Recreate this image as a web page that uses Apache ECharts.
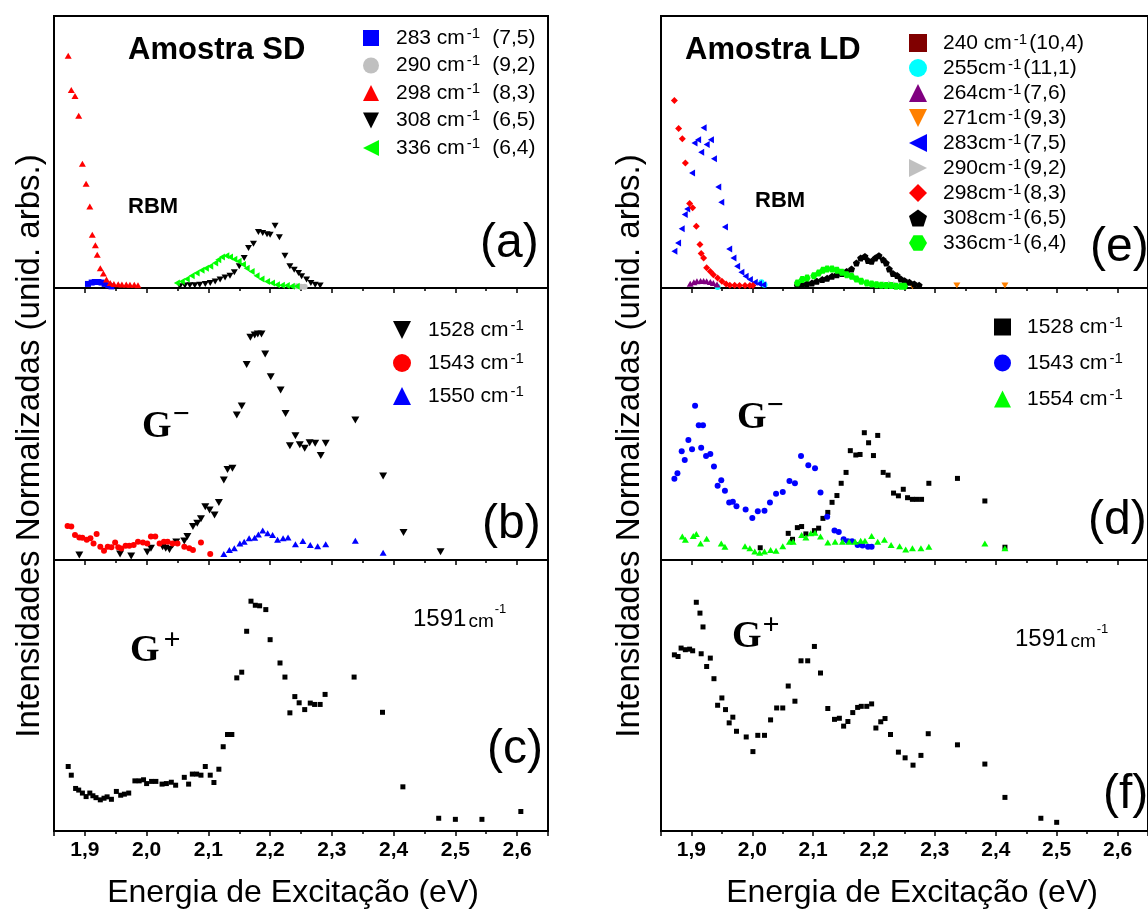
<!DOCTYPE html>
<html><head><meta charset="utf-8">
<script src="https://cdn.jsdelivr.net/npm/echarts@6/dist/echarts.min.js"></script>
<style>html,body{margin:0;padding:0;background:#fff}#c{width:1148px;height:912px}</style>
</head><body><div id="c"></div>
<script>
// ---------------- DATA (energy eV, normalized intensity) ----------------
const sdRbm283 = [[1.905,0.015],[1.911,0.020],[1.916,0.022],[1.922,0.022],[1.927,0.020],[1.932,0.015],[1.938,0.010],[1.943,0.006]];
const sdRbm290 = [[2.243,0.006],[2.250,0.005],[2.256,0.005]];
const sdRbm298 = [[1.873,0.854],[1.878,0.728],[1.884,0.706],[1.890,0.633],[1.896,0.457],[1.902,0.383],[1.908,0.300],[1.912,0.196],[1.917,0.157],[1.920,0.122],[1.925,0.073],[1.930,0.053],[1.935,0.031],[1.941,0.018],[1.947,0.015],[1.954,0.014],[1.960,0.013],[1.967,0.013],[1.973,0.012],[1.980,0.012],[1.986,0.010]];
const sdRbm308 = [[2.054,0.006],[2.062,0.009],[2.070,0.010],[2.078,0.010],[2.086,0.012],[2.095,0.015],[2.103,0.018],[2.111,0.024],[2.119,0.031],[2.127,0.039],[2.135,0.045],[2.142,0.058],[2.150,0.080],[2.158,0.110],[2.165,0.147],[2.173,0.163],[2.181,0.206],[2.188,0.202],[2.195,0.198],[2.200,0.196],[2.208,0.229],[2.215,0.187],[2.224,0.119],[2.232,0.080],[2.239,0.067],[2.246,0.055],[2.251,0.043],[2.259,0.031],[2.266,0.018],[2.273,0.012],[2.281,0.009]];
const sdRbm336 = [[2.049,0.018],[2.057,0.024],[2.065,0.033],[2.073,0.045],[2.081,0.055],[2.089,0.065],[2.096,0.073],[2.103,0.080],[2.111,0.092],[2.116,0.104],[2.122,0.114],[2.129,0.119],[2.135,0.114],[2.142,0.106],[2.149,0.098],[2.156,0.086],[2.162,0.073],[2.170,0.061],[2.178,0.045],[2.186,0.033],[2.195,0.024],[2.203,0.018],[2.211,0.012],[2.219,0.010],[2.227,0.009],[2.235,0.006],[2.243,0.006]];

const sdG1528 = [[1.891,0.018],[1.957,0.022],[1.975,0.015],[2.001,0.029],[2.007,0.043],[2.026,0.049],[2.031,0.043],[2.037,0.039],[2.042,0.055],[2.048,0.066],[2.061,0.070],[2.066,0.086],[2.075,0.123],[2.082,0.135],[2.088,0.152],[2.095,0.196],[2.102,0.184],[2.110,0.165],[2.117,0.211],[2.125,0.294],[2.131,0.333],[2.139,0.337],[2.146,0.533],[2.154,0.566],[2.162,0.719],[2.168,0.819],[2.175,0.827],[2.180,0.831],[2.186,0.831],[2.192,0.757],[2.201,0.674],[2.217,0.625],[2.225,0.539],[2.232,0.420],[2.241,0.457],[2.248,0.424],[2.256,0.411],[2.264,0.431],[2.273,0.429],[2.282,0.384],[2.290,0.429],[2.338,0.515],[2.383,0.309],[2.416,0.101],[2.476,0.030]];
const sdG1543 = [[1.872,0.125],[1.878,0.123],[1.884,0.092],[1.891,0.083],[1.896,0.082],[1.903,0.074],[1.909,0.080],[1.914,0.061],[1.919,0.096],[1.925,0.049],[1.931,0.034],[1.937,0.049],[1.943,0.047],[1.949,0.064],[1.954,0.047],[1.959,0.042],[1.966,0.052],[1.972,0.052],[1.979,0.055],[1.986,0.067],[1.994,0.064],[2.001,0.061],[2.007,0.086],[2.014,0.086],[2.021,0.061],[2.028,0.067],[2.034,0.067],[2.042,0.061],[2.050,0.061],[2.061,0.049],[2.069,0.043],[2.075,0.037],[2.088,0.064],[2.103,0.022]];
const sdG1550 = [[2.125,0.022],[2.134,0.037],[2.142,0.043],[2.151,0.061],[2.158,0.067],[2.166,0.080],[2.175,0.082],[2.181,0.094],[2.188,0.108],[2.196,0.098],[2.204,0.092],[2.212,0.074],[2.221,0.080],[2.229,0.083],[2.241,0.058],[2.253,0.070],[2.265,0.055],[2.277,0.051],[2.290,0.058],[2.338,0.071],[2.383,0.027]];
const sdG1591 = [[1.873,0.238],[1.878,0.206],[1.885,0.157],[1.890,0.151],[1.896,0.140],[1.902,0.127],[1.908,0.140],[1.913,0.130],[1.918,0.123],[1.925,0.115],[1.931,0.121],[1.936,0.126],[1.943,0.117],[1.951,0.146],[1.958,0.132],[1.964,0.136],[1.971,0.140],[1.981,0.185],[1.988,0.185],[1.995,0.189],[2.000,0.175],[2.008,0.183],[2.015,0.183],[2.025,0.173],[2.032,0.175],[2.040,0.180],[2.047,0.169],[2.061,0.198],[2.068,0.173],[2.074,0.210],[2.081,0.210],[2.088,0.206],[2.095,0.238],[2.103,0.206],[2.109,0.179],[2.117,0.228],[2.124,0.311],[2.131,0.356],[2.138,0.356],[2.146,0.565],[2.154,0.586],[2.162,0.737],[2.169,0.848],[2.176,0.833],[2.183,0.831],[2.193,0.817],[2.200,0.706],[2.216,0.620],[2.224,0.568],[2.232,0.436],[2.240,0.496],[2.247,0.473],[2.256,0.448],[2.265,0.472],[2.272,0.467],[2.281,0.467],[2.289,0.504],[2.336,0.568],[2.382,0.438],[2.415,0.163],[2.473,0.047],[2.500,0.043],[2.543,0.043],[2.606,0.072]];

const ldRbm240 = [];
const ldRbm255 = [[1.943,0.004],[2.015,0.021],[2.020,0.012]];
const ldRbm264 = [[1.898,0.016],[1.904,0.021],[1.909,0.025],[1.915,0.026],[1.920,0.026],[1.925,0.025],[1.931,0.022],[1.936,0.018],[1.942,0.013]];
const ldRbm271 = [[2.263,0.006],[2.336,0.009],[2.415,0.009]];
const ldRbm283 = [[1.872,0.135],[1.878,0.165],[1.884,0.218],[1.889,0.270],[1.893,0.290],[1.901,0.423],[1.905,0.533],[1.911,0.545],[1.916,0.499],[1.920,0.589],[1.925,0.528],[1.932,0.545],[1.937,0.475],[1.944,0.371],[1.949,0.315],[1.955,0.224],[1.962,0.143],[1.969,0.110],[1.975,0.080],[1.982,0.058],[1.989,0.043],[1.996,0.031],[2.004,0.021],[2.011,0.016],[2.018,0.012]];
const ldRbm290 = [[2.220,0.012],[2.228,0.015],[2.236,0.012]];
const ldRbm298 = [[1.872,0.689],[1.879,0.586],[1.885,0.549],[1.890,0.460],[1.897,0.311],[1.902,0.295],[1.908,0.227],[1.914,0.160],[1.916,0.127],[1.920,0.110],[1.925,0.074],[1.931,0.061],[1.936,0.049],[1.943,0.037],[1.950,0.025],[1.957,0.015],[1.963,0.010],[1.971,0.010],[1.979,0.009],[1.988,0.009],[1.996,0.009],[2.001,0.009]];
const ldRbm308 = [[2.074,0.009],[2.082,0.012],[2.090,0.016],[2.098,0.018],[2.106,0.025],[2.115,0.031],[2.123,0.036],[2.131,0.043],[2.139,0.049],[2.147,0.053],[2.155,0.061],[2.163,0.070],[2.171,0.092],[2.178,0.110],[2.185,0.116],[2.190,0.101],[2.196,0.098],[2.202,0.110],[2.208,0.119],[2.215,0.104],[2.220,0.092],[2.225,0.070],[2.231,0.053],[2.238,0.046],[2.244,0.033],[2.250,0.027],[2.258,0.021],[2.266,0.015],[2.274,0.010]];
const ldRbm336 = [[2.074,0.018],[2.082,0.031],[2.090,0.037],[2.101,0.045],[2.109,0.055],[2.116,0.065],[2.123,0.070],[2.131,0.070],[2.139,0.065],[2.147,0.058],[2.155,0.049],[2.163,0.043],[2.171,0.033],[2.179,0.025],[2.188,0.018],[2.196,0.015],[2.204,0.012],[2.212,0.010],[2.220,0.009],[2.228,0.009],[2.236,0.006],[2.244,0.006],[2.250,0.006]];

const ldG1528 = [[2.013,0.045],[2.059,0.098],[2.066,0.076],[2.074,0.119],[2.081,0.123],[2.088,0.096],[2.102,0.108],[2.109,0.117],[2.116,0.153],[2.124,0.175],[2.131,0.212],[2.139,0.237],[2.146,0.282],[2.154,0.322],[2.161,0.402],[2.170,0.386],[2.177,0.388],[2.184,0.468],[2.191,0.431],[2.199,0.384],[2.206,0.458],[2.215,0.322],[2.223,0.312],[2.232,0.246],[2.240,0.236],[2.248,0.260],[2.255,0.229],[2.263,0.223],[2.270,0.223],[2.278,0.223],[2.290,0.282],[2.337,0.300],[2.382,0.217],[2.415,0.047]];
const ldG1543 = [[1.872,0.299],[1.877,0.319],[1.884,0.400],[1.889,0.368],[1.895,0.441],[1.901,0.407],[1.906,0.567],[1.912,0.495],[1.919,0.495],[1.916,0.413],[1.924,0.382],[1.931,0.390],[1.937,0.344],[1.943,0.273],[1.949,0.293],[1.955,0.255],[1.962,0.211],[1.968,0.214],[1.974,0.198],[1.989,0.186],[2.000,0.154],[2.009,0.179],[2.020,0.181],[2.029,0.211],[2.039,0.244],[2.050,0.250],[2.061,0.290],[2.070,0.282],[2.080,0.382],[2.092,0.348],[2.103,0.337],[2.112,0.248],[2.123,0.159],[2.135,0.108],[2.142,0.103],[2.150,0.076],[2.157,0.069],[2.164,0.069],[2.173,0.055],[2.181,0.053],[2.190,0.049],[2.196,0.049]];
const ldG1554 = [[1.885,0.086],[1.890,0.074],[1.903,0.088],[1.908,0.096],[1.915,0.061],[1.925,0.078],[1.949,0.061],[1.955,0.049],[1.988,0.051],[1.996,0.043],[2.004,0.031],[2.012,0.027],[2.020,0.031],[2.030,0.037],[2.039,0.034],[2.050,0.051],[2.061,0.067],[2.067,0.067],[2.081,0.092],[2.088,0.083],[2.096,0.098],[2.103,0.100],[2.112,0.086],[2.124,0.064],[2.136,0.067],[2.148,0.067],[2.159,0.067],[2.169,0.067],[2.178,0.071],[2.185,0.071],[2.196,0.088],[2.206,0.067],[2.217,0.074],[2.228,0.055],[2.242,0.051],[2.252,0.039],[2.263,0.043],[2.277,0.043],[2.290,0.049],[2.382,0.061],[2.415,0.043]];
const ldG1591 = [[1.872,0.650],[1.878,0.644],[1.883,0.675],[1.890,0.669],[1.897,0.671],[1.902,0.665],[1.908,0.844],[1.914,0.804],[1.919,0.753],[1.916,0.654],[1.925,0.607],[1.931,0.638],[1.937,0.562],[1.943,0.464],[1.950,0.491],[1.956,0.448],[1.962,0.399],[1.968,0.420],[1.974,0.368],[1.990,0.347],[2.001,0.293],[2.009,0.353],[2.020,0.353],[2.030,0.410],[2.040,0.454],[2.050,0.454],[2.059,0.535],[2.070,0.479],[2.080,0.628],[2.091,0.628],[2.102,0.681],[2.112,0.583],[2.124,0.452],[2.135,0.412],[2.143,0.416],[2.150,0.387],[2.157,0.404],[2.165,0.437],[2.173,0.456],[2.179,0.460],[2.188,0.460],[2.196,0.469],[2.203,0.380],[2.211,0.403],[2.218,0.415],[2.227,0.356],[2.240,0.291],[2.251,0.270],[2.264,0.243],[2.277,0.279],[2.289,0.359],[2.337,0.318],[2.382,0.247],[2.415,0.124],[2.474,0.047],[2.500,0.032]];

// legend labels
const legendSD = {SD283:['283 cm','(7,5)'],SD290:['290 cm','(9,2)'],SD298:['298 cm','(8,3)'],SD308:['308 cm','(6,5)'],SD336:['336 cm','(6,4)']};
const legendLD = {LD240:['240 cm','(10,4)'],LD255:['255cm','(11,1)'],LD264:['264cm','(7,6)'],LD271:['271cm','(9,3)'],LD283:['283cm','(7,5)'],LD290:['290cm','(9,2)'],LD298:['298cm','(8,3)'],LD308:['308cm','(6,5)'],LD336:['336cm','(6,4)']};
const legendB = {B1528:'1528 cm',B1543:'1543 cm',B1550:'1550 cm'};
const legendD = {D1528:'1528 cm',D1543:'1543 cm',D1554:'1554 cm'};

// ---------------- CHART ----------------
const FONT = 'Liberation Sans';
const cols = [{left:54,width:494},{left:661,width:494}];
const rows = [{top:16,height:272},{top:288,height:272},{top:560,height:271}];
const grids = [];
for (const c of cols) for (const r of rows) grids.push({left:c.left,width:c.width,top:r.top,height:r.height,show:true,borderColor:'#000',borderWidth:2,backgroundColor:'transparent',containLabel:false});

function fmt(v){const r=Math.round(v*10)/10; if(Math.abs(v-r)>1e-6) return ''; return r.toFixed(1).replace('.',',');}
const xAxes = grids.map((g,i)=>({gridIndex:i,type:'value',min:1.85,max:2.65,splitNumber:8,minInterval:0.1,maxInterval:0.1,
  axisLine:{show:true,lineStyle:{color:'#000',width:2}},
  axisTick:{show:true,inside:false,length:5,lineStyle:{color:'#000',width:1.5}},
  minorTick:{show:true,splitNumber:2,length:3,lineStyle:{color:'#000',width:1.5}},
  splitLine:{show:false},minorSplitLine:{show:false},
  axisLabel:{show:(i===2||i===5),formatter:fmt,showMinLabel:false,showMaxLabel:false,fontFamily:FONT,fontWeight:'bold',fontSize:21,color:'#000',margin:9}}));
const yAxes = grids.map((g,i)=>({gridIndex:i,type:'value',min:0,max:1,show:false}));

const triUp='path://M0,-1 L1,1 L-1,1 Z';
const triDown='path://M0,1 L1,-1 L-1,-1 Z';
const triLeft='path://M-1,0 L1,-1 L1,1 Z';
const triRight='path://M1,0 L-1,-1 L-1,1 Z';
const hexagon='path://M-1,0 L-0.5,-0.866 L0.5,-0.866 L1,0 L0.5,0.866 L-0.5,0.866 Z';
const pentagon='path://M0,-1 L0.951,-0.309 L0.588,0.809 L-0.588,0.809 L-0.951,-0.309 Z';

function sc(name,data,gi,symbol,size,color){
  return {type:'scatter',name:name,data:data,xAxisIndex:gi,yAxisIndex:gi,symbol:symbol,symbolSize:size,
    itemStyle:{color:color,opacity:1},emphasis:{disabled:true},animation:false};
}
const series = [
  sc('SD283',sdRbm283,0,'rect',6,'#0000ff'),
  sc('SD290',sdRbm290,0,'circle',6,'#c0c0c0'),
  sc('SD298',sdRbm298,0,triUp,[7,6],'#ff0000'),
  sc('SD308',sdRbm308,0,triDown,[7,6],'#000000'),
  sc('SD336',sdRbm336,0,triLeft,[6,7],'#00ff00'),
  sc('B1528',sdG1528,1,triDown,[8,7],'#000000'),
  sc('B1543',sdG1543,1,'circle',6,'#ff0000'),
  sc('B1550',sdG1550,1,triUp,[7,6],'#0000ff'),
  sc('C1591',sdG1591,2,'rect',5,'#000000'),
  sc('LD240',ldRbm240,3,'rect',6,'#800000'),
  sc('LD255',ldRbm255,3,'circle',6,'#00ffff'),
  sc('LD264',ldRbm264,3,triUp,[7,6],'#800080'),
  sc('LD271',ldRbm271,3,triDown,[7,6],'#ff8000'),
  sc('LD283',ldRbm283,3,triLeft,[6,7],'#0000ff'),
  sc('LD290',ldRbm290,3,triRight,[6,7],'#c0c0c0'),
  sc('LD298',ldRbm298,3,'diamond',7,'#ff0000'),
  sc('LD308',ldRbm308,3,pentagon,7,'#000000'),
  sc('LD336',ldRbm336,3,hexagon,7,'#00ff00'),
  sc('D1528',ldG1528,4,'rect',5,'#000000'),
  sc('D1543',ldG1543,4,'circle',6,'#0000ff'),
  sc('D1554',ldG1554,4,triUp,[7,6],'#00ff00'),
  sc('F1591',ldG1591,5,'rect',5,'#000000')
];

function rich(pad,lh,pp){return {
  n:{fontFamily:FONT,fontSize:21,color:'#000',lineHeight:lh,padding:[0,0,0,pad]},
  s:{fontFamily:FONT,fontSize:15,color:'#000',lineHeight:lh,verticalAlign:'top',padding:[0,0,0,2]},
  p:{fontFamily:FONT,fontSize:21,color:'#000',lineHeight:lh,padding:[0,0,0,pp]}
};}
const legends = [
  {data:Object.keys(legendSD),orient:'vertical',left:358,top:21,itemWidth:16,itemHeight:16,itemGap:5,selectedMode:false,
   formatter:n=>'{n|'+legendSD[n][0]+'}{s|-1}{p|'+legendSD[n][1]+'}',textStyle:{rich:rich(12,24,12)}},
  {data:Object.keys(legendLD),orient:'vertical',left:904,top:27,itemWidth:18,itemHeight:18,itemGap:3.5,selectedMode:false,
   formatter:n=>'{n|'+legendLD[n][0]+'}{s|-1}{p|'+legendLD[n][1]+'}',textStyle:{rich:rich(11,22,2)}},
  {data:Object.keys(legendB),orient:'vertical',left:388,top:313,itemWidth:18,itemHeight:18,itemGap:10.5,selectedMode:false,
   formatter:n=>'{n|'+legendB[n]+'}{s|-1}',textStyle:{rich:rich(12,24,0)}},
  {data:Object.keys(legendD),orient:'vertical',left:989,top:310,itemWidth:17,itemHeight:17,itemGap:13.5,selectedMode:false,
   formatter:n=>'{n|'+legendD[n]+'}{s|-1}',textStyle:{rich:rich(11,24,0)}}
];

function txt(x,y,text,size,opts){
  opts=opts||{};
  return {type:'text',x:x,y:y,rotation:opts.rot||0,silent:true,z:10,style:{text:text,fill:'#000',
    font:(opts.weight||'normal')+' '+size+'px '+(opts.family||FONT),
    textAlign:opts.align||'left',textVerticalAlign:'middle'}};
}
const supRich={b:{fontFamily:FONT,fontSize:24,lineHeight:28,verticalAlign:'bottom'},c:{fontFamily:FONT,fontSize:19,lineHeight:28,verticalAlign:'bottom',padding:[0,0,0,2]},s:{fontFamily:FONT,fontSize:13,lineHeight:28,verticalAlign:'top',padding:[0,0,0,1]}};
const SERIF='Liberation Serif';
const graphics = [
  txt(128,50,'Amostra SD',31,{weight:'bold'}),
  txt(128,207,'RBM',22,{weight:'bold'}),
  txt(480,244,'(a)',48),
  txt(142,427,'G',38,{weight:'bold',family:SERIF}),
  txt(181,415,'\u2212',30,{weight:'bold',family:SERIF,align:'center'}),
  txt(482,525,'(b)',48),
  txt(130,651,'G',38,{weight:'bold',family:SERIF}),
  txt(172,641,'+',30,{weight:'bold',family:SERIF,align:'center'}),
  {type:'text',x:413,y:617,silent:true,style:{text:'{b|1591}{c|cm}{s|-1}',rich:supRich,textVerticalAlign:'middle',fill:'#000'}},
  txt(487,750,'(c)',48),
  txt(685,50,'Amostra LD',31,{weight:'bold'}),
  txt(755,201,'RBM',22,{weight:'bold'}),
  txt(1090,248,'(e)',48),
  txt(737,418,'G',38,{weight:'bold',family:SERIF}),
  txt(775,406,'\u2212',30,{weight:'bold',family:SERIF,align:'center'}),
  txt(1088,521,'(d)',48),
  txt(732,637,'G',38,{weight:'bold',family:SERIF}),
  txt(771,626,'+',30,{weight:'bold',family:SERIF,align:'center'}),
  {type:'text',x:1015,y:637,silent:true,style:{text:'{b|1591}{c|cm}{s|-1}',rich:supRich,textVerticalAlign:'middle',fill:'#000'}},
  txt(1103,795,'(f)',48),
  txt(293,893,'Energia de Excitação (eV)',32,{align:'center'}),
  txt(912,893,'Energia de Excitação (eV)',32,{align:'center'}),
  txt(30,446,'Intensidades Normalizadas (unid. arbs.)',33,{align:'center',rot:Math.PI/2}),
  txt(630,446,'Intensidades Normalizadas (unid. arbs.)',33,{align:'center',rot:Math.PI/2})
];

const chart = echarts.init(document.getElementById('c'),null,{renderer:'canvas'});
chart.setOption({animation:false,backgroundColor:'#fff',grid:grids,xAxis:xAxes,yAxis:yAxes,series:series,legend:legends,graphic:graphics,tooltip:{show:false}});
</script>
</body></html>
